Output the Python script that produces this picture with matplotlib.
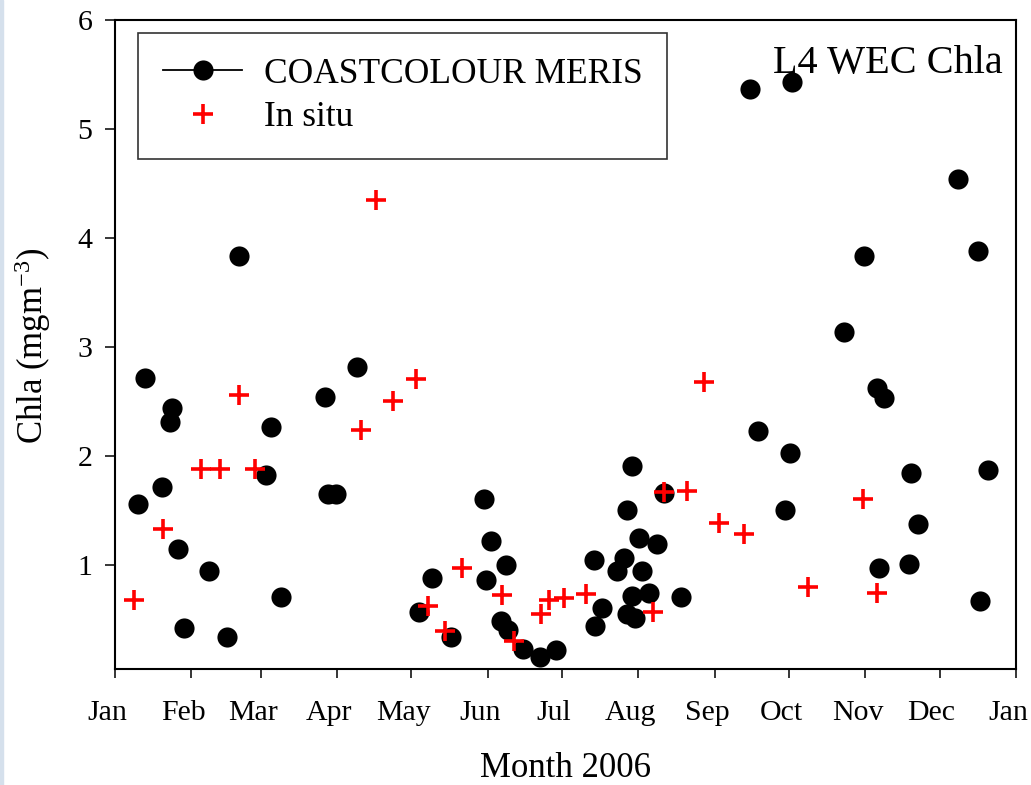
import matplotlib
matplotlib.use('Agg')
import matplotlib.pyplot as plt
import matplotlib.dates as mdates
import matplotlib.transforms as mtransforms
from matplotlib.patches import Rectangle
from datetime import datetime, timedelta

plt.rcParams['font.family'] = ['Liberation Serif', 'DejaVu Serif']
plt.rcParams['mathtext.fontset'] = 'custom'
plt.rcParams['mathtext.rm'] = 'Liberation Serif'
plt.rcParams['mathtext.default'] = 'regular'

# Day of year 2006 (days after 1 Jan) and Chla (mg m-3)
MERIS_DAY = [9.2, 12.2, 19.2, 23.2, 22.3, 25.4, 28.1, 38.2, 45.3, 50.4,
             61.0, 63.3, 67.4, 85.1, 86.3, 89.5, 98.0, 123.3, 128.3, 136.1,
             149.5, 150.3, 152.2, 156.2, 158.3, 159.1, 165.4, 172.2, 178.5, 194.2,
             194.5, 197.3, 203.4, 206.3, 207.3, 207.3, 209.6, 209.3, 210.7, 212.3,
             213.4, 216.3, 219.4, 222.3, 229.3, 257.4, 260.4, 271.5, 273.3, 274.4,
             295.3, 303.4, 308.6, 311.6, 309.5, 322.3, 321.5, 325.4, 341.4, 349.5,
             350.5, 353.5]
MERIS_CHLA = [1.56, 2.72, 1.72, 2.44, 2.31, 1.15, 0.43, 0.95, 0.34, 3.84,
              1.83, 2.27, 0.71, 2.54, 1.65, 1.65, 2.82, 0.57, 0.88, 0.34,
              1.61, 0.87, 1.22, 0.49, 1.00, 0.41, 0.23, 0.16, 0.22, 1.05,
              0.44, 0.61, 0.95, 1.07, 1.51, 0.55, 1.91, 0.72, 0.52, 1.25,
              0.95, 0.75, 1.20, 1.66, 0.71, 5.37, 2.23, 1.51, 2.03, 5.43,
              3.14, 3.84, 2.63, 2.53, 0.98, 1.85, 1.01, 1.38, 4.54, 3.88,
              0.67, 1.87]

INSITU_DAY = [7.7, 19.6, 34.7, 42.5, 50.4, 56.7, 99.7, 105.7, 112.6, 121.9,
              126.9, 133.8, 140.7, 156.7, 161.8, 172.7, 175.8, 181.8, 190.7, 217.8,
              222.5, 231.7, 238.7, 244.8, 254.7, 280.9, 302.9, 308.8]
INSITU_CHLA = [0.68, 1.33, 1.88, 1.88, 2.56, 1.88, 2.24, 4.35, 2.51, 2.71,
               0.63, 0.40, 0.98, 0.73, 0.31, 0.55, 0.68, 0.70, 0.74, 0.57,
               1.67, 1.68, 2.68, 1.39, 1.29, 0.80, 1.61, 0.75]

START = datetime(2006, 1, 1)
meris_dates = [START + timedelta(days=d) for d in MERIS_DAY]
insitu_dates = [START + timedelta(days=d) for d in INSITU_DAY]

fig = plt.figure(figsize=(10.31, 7.85), dpi=100)
ax = fig.add_axes([0.1115, 0.1478, 0.874, 0.8267])

ax.plot(meris_dates, MERIS_CHLA, 'o', color='black', markersize=14.5,
        markeredgewidth=0, linestyle='-', linewidth=0, label='COASTCOLOUR MERIS')
ax.plot(insitu_dates, INSITU_CHLA, '+', color='#ff0000', markersize=14.5,
        markeredgewidth=2.6, linestyle='none', label='In situ')

ax.set_xlim(START, datetime(2007, 1, 1))
ax.set_ylim(0.05, 6)
ax.set_yticks([1, 2, 3, 4, 5, 6])
ax.xaxis.set_major_locator(mdates.MonthLocator())
ax.xaxis.set_major_formatter(mdates.DateFormatter('%b'))

for s in ax.spines.values():
    s.set_linewidth(1.5)
ax.tick_params(axis='x', direction='out', length=6.5, width=1.1, labelsize=21.5, pad=16)
ax.tick_params(axis='y', direction='out', length=7.2, width=1.1, labelsize=21.5, pad=9)

# month labels sit a little left of their ticks
shift = mtransforms.ScaledTranslation(-8 / 100, 0, fig.dpi_scale_trans)
for lab in ax.get_xticklabels():
    lab.set_transform(lab.get_transform() + shift)

leg = ax.legend(loc='upper left', bbox_to_anchor=(0.0255, 0.98), borderaxespad=0,
                fontsize=25.5, frameon=True, fancybox=False, edgecolor='black',
                handlelength=2.25, handletextpad=0.6, borderpad=0.7, labelspacing=0.3)
leg.get_frame().set_linewidth(1.2)
leg.legend_handles[0].set_linewidth(1.3)

ax.text(0.9856, 0.918, 'L4 WEC Chla', transform=ax.transAxes, ha='right',
        va='baseline', fontsize=29)

fig.text(566 / 1031, 0, 'Month 2006', ha='center', va='bottom', fontsize=25)
fig.text(33 / 1031, 1 - 346 / 785, r'Chla (mgm$^{-3}$)', ha='center', va='center',
         rotation=90, fontsize=25)

fig.patches.append(Rectangle((0, 0), 3 / 1031, 1, transform=fig.transFigure,
                             color='#d5e0ec', zorder=-1))

fig.savefig('out.png', dpi=100)
